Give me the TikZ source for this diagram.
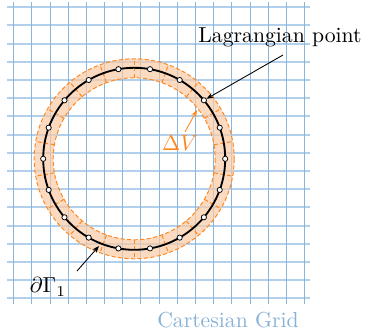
\documentclass[tikz,border=0pt]{standalone}
\usetikzlibrary{arrows.meta,calc}
\definecolor{gridh}{RGB}{178,207,236}
\definecolor{gridv}{RGB}{138,182,220}
\definecolor{gridtxt}{RGB}{135,178,215}
\definecolor{bandfill}{RGB}{250,202,165}
\definecolor{bandline}{RGB}{255,135,30}
\tikzset{
  hline/.style={draw=gridh, line width=0.8pt},
  vline/.style={draw=gridv, line width=0.4608pt},
  bandedge/.style={draw=bandline, dash pattern=on 1.9pt off 1.1pt, line width=0.45pt},
  lagpt/.style={circle, draw=black, fill=white, inner sep=0pt, minimum size=2.4pt, line width=0.35pt},
  pointer/.style={-{Stealth[length=3.2pt,width=2.4pt]}, line width=0.4pt},
}
\begin{document}
\begin{tikzpicture}[x=0.4608pt, y=-0.4608pt]
\useasboundingbox (0,0) rectangle (367,333);
% grid
\foreach \yy in {7,25,44,62,80,98,116,135,153,171,189,207,226,244,262,280,298} {
  \path[hline] (7,\yy) -- (310,\yy);
}
\foreach \xx in {13,31,50,68,86,104,122,140,159,177,195,213,231,250,268,286,304} {
  \path[vline] (\xx+0.5,2) -- (\xx+0.5,304);
}
\coordinate (c) at (134.2,158.8);
% band
\fill[bandfill, fill opacity=0.7, even odd rule] (c) circle[radius=100] (c) circle[radius=81];
\draw[bandedge] (c) circle[radius=100];
\draw[bandedge] (c) circle[radius=81];
\foreach \k in {0,...,17} {
  \draw[bandedge] ($(c)+({10+20*\k}:81)$) -- ($(c)+({10+20*\k}:100)$);
}
% interface
\draw[black, line width=0.85pt] (c) circle[radius=91];
\foreach \k in {0,...,17} {
  \node[lagpt] (p\k) at ($(c)+({-20*\k}:91)$) {};
}
% labels
\node (lag) at (280,37) {Lagrangian point};
\coordinate (lagstart) at (283,55);
\draw[pointer] (lagstart) -- (p2);
\node[text=bandline] (dv) at (180,143) {$\Delta V$};
\coordinate (dvstart) at (185,132);
\coordinate (dvend) at (197,110);
\draw[pointer, bandline] (dvstart) -- (dvend);
\node (gam) at (48,287) {$\partial\Gamma_1$};
\coordinate (gamstart) at (77,271);
\coordinate (gamend) at (99,246);
\draw[pointer] (gamstart) -- (gamend);
\node[text=gridtxt] (cg) at (228,320) {Cartesian Grid};
\end{tikzpicture}
\end{document}
